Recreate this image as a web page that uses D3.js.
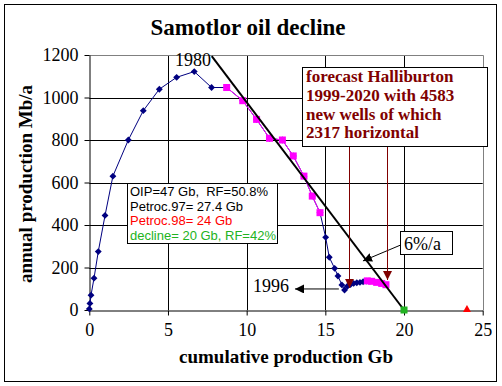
<!DOCTYPE html>
<html><head><meta charset="utf-8">
<script src="https://cdn.jsdelivr.net/npm/d3@7"></script>
<style>
body{margin:0;background:#fff;}
svg text{font-family:"Liberation Serif","Times New Roman",serif;}
</style></head>
<body><svg id="c" width="502" height="386"></svg>
<script>
// ---- data ----
const xTicks = [0,5,10,15,20,25];
const yTicks = [0,200,400,600,800,1000,1200];
const prodX = [0,0.04,0.11,0.3,0.57,1.0,1.5,2.48,3.43,4.45,5.55,6.67,7.77,8.73,9.75,10.63,11.45,12.27,12.96,13.64,14.17,14.66,15.02,15.25,15.59,15.8,16.05,16.22,16.4,16.6,16.8,17.0,17.2,17.4,17.6];
const prodY = [5,31,70,150,275,445,630,800,938,1039,1095,1122,1047,1047,985,897,808,800,725,630,536,458,342,248,196,160,118,94,112,120,125,128,130,133,136];
const pinkAX = [8.73,9.75,10.63,11.45,12.27,12.96,13.64,14.17,14.66];
const pinkAY = [1047,985,897,808,800,725,630,536,458];
const pinkBX = [17.67,17.94,18.26,18.58,18.85];
const pinkBY = [137,135,130,125,119];
const declineX = [7.78,20];
const declineY = [1195,0];
const declineEnd = [20,0];     // green square
const petroc98 = [24,0];       // red triangle
const forecastLines = ["forecast Halliburton","1999-2020 with 4583","new wells of which","2317 horizontal"];
const forecastArrowX = [16.5,18.9];
const forecastArrowY = [104,141];
const legendLines = ["OIP=47 Gb,  RF=50.8%","Petroc.97= 27.4 Gb","Petroc.98= 24 Gb","decline= 20 Gb, RF=42%"];
const legendColors = ["#000","#000","#ff0000","#22b322"];

// ---- layout ----
const SERIF = "'Liberation Serif','Times New Roman',serif";
const svg = d3.select("#c");
const x = d3.scaleLinear().domain([0,25]).range([89.3,482.7]);
const y = d3.scaleLinear().domain([0,1200]).range([310,55]);

const defs = svg.append("defs");
function marker(id,color){
  defs.append("marker").attr("id",id).attr("viewBox","0 0 10 10").attr("refX",10).attr("refY",5)
    .attr("markerWidth",9).attr("markerHeight",9).attr("markerUnits","userSpaceOnUse").attr("orient","auto")
    .append("path").attr("d","M0,0L10,5L0,10Z").attr("fill",color);
}
marker("ab","#000"); marker("ar","#800000");

svg.append("rect").attr("x",4.5).attr("y",4.5).attr("width",492).attr("height",377)
  .attr("fill","#fff").attr("stroke","#000");

// gridlines
svg.append("g").selectAll("line").data(yTicks.filter(d=>d>0&&d<1200)).join("line")
  .attr("x1",x(0)).attr("x2",x(25)).attr("y1",d=>Math.round(y(d))+0.5).attr("y2",d=>Math.round(y(d))+0.5)
  .attr("stroke","#000");
svg.append("g").selectAll("line").data(xTicks.filter(d=>d>0&&d<25)).join("line")
  .attr("y1",y(0)).attr("y2",y(1200)).attr("x1",d=>Math.round(x(d))+0.5).attr("x2",d=>Math.round(x(d))+0.5)
  .attr("stroke","#000");
// plot border top/right gray
svg.append("path").attr("d",`M${x(0)},${Math.round(y(1200))+0.5}H${Math.round(x(25))+0.5}V${y(0)}`)
  .attr("fill","none").attr("stroke","#808080");

// axes
const yAxis = svg.append("g").attr("transform",`translate(${Math.round(x(0))+0.5},0)`)
  .call(d3.axisLeft(y).tickValues(yTicks).tickFormat(d3.format("d")).tickSize(5).tickPadding(6).tickSizeOuter(0));
const xAxis = svg.append("g").attr("transform",`translate(0,${Math.round(y(0))+0.5})`)
  .call(d3.axisBottom(x).tickValues(xTicks).tickFormat(d3.format("d")).tickSize(5).tickPadding(8).tickSizeOuter(0));
[yAxis,xAxis].forEach(a=>{
  a.attr("font-family",null).attr("font-size",null);
  a.selectAll("path,line").attr("stroke","#000");
  a.selectAll("text").style("font-family",SERIF).style("font-size","18px").attr("fill","#000");
});

// titles
svg.append("text").attr("x",248).attr("y",35).attr("text-anchor","middle").attr("font-size",23).attr("font-weight","bold").text("Samotlor oil decline");
svg.append("text").attr("x",286).attr("y",363).attr("text-anchor","middle").attr("font-size",19).attr("font-weight","bold").text("cumulative production Gb");
svg.append("text").attr("transform","translate(32,184) rotate(-90)").attr("text-anchor","middle").attr("font-size",19).attr("font-weight","bold").text("annual production Mb/a");

// production line
const prod = prodX.map((d,i)=>[d,prodY[i]]);
const line = d3.line().x(d=>x(d[0])).y(d=>y(d[1]));
svg.append("path").datum(prod).attr("d",line).attr("fill","none").attr("stroke","#000080").attr("stroke-width",1);
svg.append("g").selectAll("path").data(prod).join("path")
  .attr("transform",d=>`translate(${x(d[0])},${y(d[1])})`)
  .attr("d",d3.symbol(d3.symbolDiamond2,30)()).attr("fill","#000080");

// pink series
[[pinkAX,pinkAY],[pinkBX,pinkBY]].forEach(([px,py])=>{
  const pts = px.map((d,i)=>[d,py[i]]);
  svg.append("path").datum(pts).attr("d",line).attr("fill","none").attr("stroke","#ff00ff").attr("stroke-width",1);
  svg.append("g").selectAll("rect").data(pts).join("rect")
    .attr("x",d=>x(d[0])-3.5).attr("y",d=>y(d[1])-3.5).attr("width",7).attr("height",7).attr("fill","#ff00ff");
});

// decline line
svg.append("line").attr("x1",x(declineX[0])).attr("y1",y(declineY[0])).attr("x2",x(declineX[1])).attr("y2",y(declineY[1]))
  .attr("stroke","#000").attr("stroke-width",2);
svg.append("rect").attr("x",x(declineEnd[0])-3.5).attr("y",y(declineEnd[1])-3.5).attr("width",7).attr("height",7).attr("fill","#22b322");
svg.append("path").attr("transform",`translate(${x(petroc98[0])},${y(petroc98[1])-1})`)
  .attr("d","M-4,3L4,3L0,-4Z").attr("fill","#ff0000");

// labels
svg.append("text").attr("x",175).attr("y",66).attr("font-size",18).text("1980");
svg.append("text").attr("x",253).attr("y",292).attr("font-size",18).text("1996");
svg.append("line").attr("x1",x(15.86)).attr("y1",y(99)).attr("x2",x(13.07)).attr("y2",y(99))
  .attr("stroke","#000").attr("marker-end","url(#ab)");

// 6%/a
svg.append("line").attr("x1",400.7).attr("y1",245).attr("x2",x(17.39)).attr("y2",y(231))
  .attr("stroke","#000").attr("marker-end","url(#ab)");
svg.append("rect").attr("x",400.5).attr("y",231.5).attr("width",52).attr("height",23).attr("fill","#fff").attr("stroke","#000");
svg.append("text").attr("x",404).attr("y",250).attr("font-size",18).text("6%/a");

// forecast box + arrows
const fb = {x:302.5,y:67.5,w:185,h:79};
forecastArrowX.forEach((d,i)=>{
  svg.append("line").attr("x1",Math.round(x(d))+0.5).attr("y1",fb.y+fb.h).attr("x2",Math.round(x(d))+0.5).attr("y2",y(forecastArrowY[i]))
    .attr("stroke","#800000").attr("marker-end","url(#ar)");
});
svg.append("rect").attr("x",fb.x).attr("y",fb.y).attr("width",fb.w).attr("height",fb.h).attr("fill","#fff").attr("stroke","#000");
svg.append("g").selectAll("text").data(forecastLines).join("text")
  .attr("x",306).attr("y",(d,i)=>82+i*18.8).attr("font-size",17).attr("font-weight","bold").attr("fill","#800000").text(d=>d);

// legend box
svg.append("rect").attr("x",127.5).attr("y",183.5).attr("width",150).attr("height",60).attr("fill","#fff").attr("stroke","#000");
svg.append("g").selectAll("text").data(legendLines).join("text")
  .attr("x",130).attr("y",(d,i)=>196+i*14.5).attr("font-size",13).attr("fill",(d,i)=>legendColors[i])
  .style("font-family","'Liberation Sans',Arial,sans-serif").style("white-space","pre").text(d=>d);
</script></body></html>
